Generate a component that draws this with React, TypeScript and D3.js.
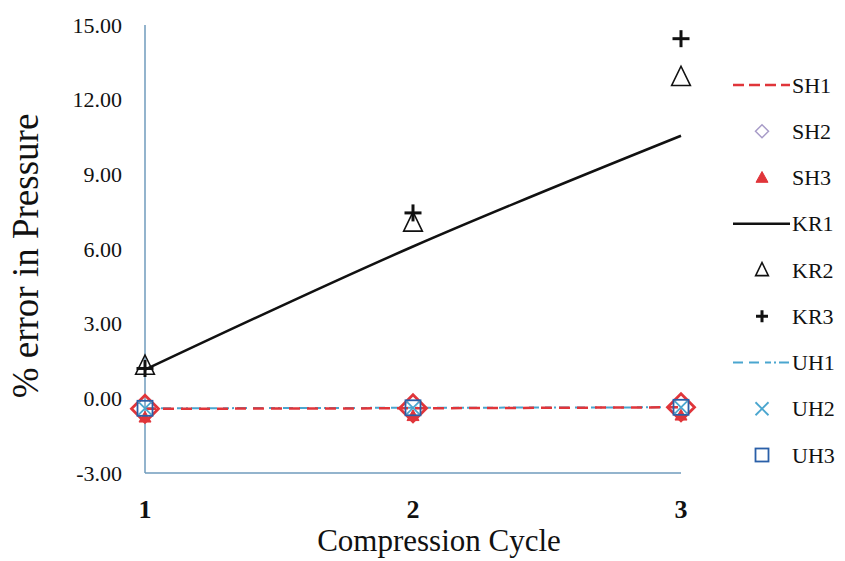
import React from "react";
import * as d3 from "d3";

const cycles = [1, 2, 3];
const yTicks = [-3, 0, 3, 6, 9, 12, 15];

const SH1 = [-0.42, -0.4, -0.36];
const SH2 = [-0.42, -0.4, -0.36];
const SH3 = [-0.68, -0.62, -0.6];
const KR1 = [1.15, 6.1, 10.55];
const KR2 = [1.3, 7.05, 12.9];
const KR3 = [1.2, 7.45, 14.45];
const UH1 = [-0.4, -0.38, -0.36];
const UH2 = [-0.4, -0.38, -0.36];
const UH3 = [-0.4, -0.38, -0.36];

const legendNames = ["SH1", "SH2", "SH3", "KR1", "KR2", "KR3", "UH1", "UH2", "UH3"];

const RED = "#e0353a";
const BLUE = "#2a5fa8";
const LBLUE = "#4aa6cf";
const FONT = "'Liberation Serif', 'Times New Roman', serif";

function Marker({ kind, x, y, s }: { kind: string; x: number; y: number; s: number }) {
  const h = s / 2;
  switch (kind) {
    case "diamond":
      return <path d={`M${x},${y - h}L${x + h},${y}L${x},${y + h}L${x - h},${y}Z`} fill="none" stroke={RED} strokeWidth={2.8} />;
    case "diamondLegend":
      return <path d={`M${x},${y - h}L${x + h},${y}L${x},${y + h}L${x - h},${y}Z`} fill="none" stroke="#a89cc8" strokeWidth={1.5} />;
    case "triFill":
      return <path d={`M${x},${y - h}L${x + h},${y + h * 0.8}L${x - h},${y + h * 0.8}Z`} fill={RED} stroke={RED} strokeWidth={1} />;
    case "tri":
      return <path d={`M${x},${y - h}L${x + h * 0.85},${y + h * 0.75}L${x - h * 0.85},${y + h * 0.75}Z`} fill="none" stroke="#111" strokeWidth={1.6} />;
    case "plus":
      return (
        <g stroke="#111" strokeWidth={3}>
          <line x1={x - h} x2={x + h} y1={y} y2={y} />
          <line x1={x} x2={x} y1={y - h} y2={y + h} />
        </g>
      );
    case "x":
      return (
        <g stroke={LBLUE} strokeWidth={1.8}>
          <line x1={x - h} x2={x + h} y1={y - h} y2={y + h} />
          <line x1={x - h} x2={x + h} y1={y + h} y2={y - h} />
        </g>
      );
    case "square":
      return <rect x={x - h} y={y - h} width={s} height={s} fill="none" stroke={BLUE} strokeWidth={1.8} />;
    default:
      return null;
  }
}

export default function App() {
  const x = d3.scaleLinear().domain([1, 3]).range([145, 681]);
  const y = d3.scaleLinear().domain([-3, 15]).range([473, 25]);
  const ly = d3.scalePoint<string>().domain(legendNames).range([85, 455]);

  const line = d3
    .line<number>()
    .x((_, i) => x(cycles[i]))
    .y((d) => y(d));
  const smooth = d3
    .line<number>()
    .x((_, i) => x(cycles[i]))
    .y((d) => y(d))
    .curve(d3.curveCatmullRom.alpha(0.5));

  const axisColor = "#6f9bbd";
  const lx1 = 733;
  const lx2 = 790;
  const lmid = 762;

  const legendSymbol = (name: string) => {
    const cy = ly(name)!;
    switch (name) {
      case "SH1":
        return <line x1={lx1} x2={lx2} y1={cy} y2={cy} stroke={RED} strokeWidth={2.5} strokeDasharray="11,5" />;
      case "SH2":
        return <Marker kind="diamondLegend" x={lmid} y={cy} s={13} />;
      case "SH3":
        return <Marker kind="triFill" x={lmid} y={cy} s={12} />;
      case "KR1":
        return <line x1={lx1} x2={lx2} y1={cy} y2={cy} stroke="#111" strokeWidth={2.5} />;
      case "KR2":
        return <Marker kind="tri" x={lmid} y={cy} s={15} />;
      case "KR3":
        return <Marker kind="plus" x={lmid} y={cy} s={12} />;
      case "UH1":
        return <line x1={lx1} x2={lx2} y1={cy} y2={cy} stroke={LBLUE} strokeWidth={2} strokeDasharray="10,6,10,6,6,3,2,3" />;
      case "UH2":
        return <Marker kind="x" x={lmid} y={cy} s={13} />;
      case "UH3":
        return <Marker kind="square" x={lmid} y={cy} s={13} />;
      default:
        return null;
    }
  };

  return (
    <svg width={845} height={561} style={{ position: "absolute", left: 0, top: 0, background: "#fff" }} fontFamily={FONT}>
      <rect width={845} height={561} fill="#fff" />
      {/* axes */}
      <line x1={x(1)} x2={x(1)} y1={y(15)} y2={y(-3)} stroke={axisColor} strokeWidth={1.5} />
      <line x1={x(1)} x2={x(3)} y1={y(-3)} y2={y(-3)} stroke={axisColor} strokeWidth={1.5} />
      {yTicks.map((t) => (
        <text key={t} x={122} y={y(t)} dy="0.35em" textAnchor="end" fontSize={22} fill="#111">
          {t.toFixed(2)}
        </text>
      ))}
      {cycles.map((c) => (
        <text key={c} x={x(c)} y={518} textAnchor="middle" fontSize={26} fontWeight="bold" fill="#111">
          {c}
        </text>
      ))}
      <text x={439} y={551} textAnchor="middle" fontSize={31} fill="#111">
        Compression Cycle
      </text>
      <text transform={`translate(38,256) rotate(-90)`} textAnchor="middle" fontSize={37} fill="#111">
        % error in Pressure
      </text>

      {/* series */}
      <path d={line(UH1)!} fill="none" stroke={LBLUE} strokeWidth={2} strokeDasharray="10,6,10,6,6,3,2,3" />
      <path d={line(SH1)!} fill="none" stroke={RED} strokeWidth={2.5} strokeDasharray="11,7" />
      <path d={smooth(KR1)!} fill="none" stroke="#111" strokeWidth={2.5} />
      {SH2.map((v, i) => (
        <Marker key={"sh2" + i} kind="diamond" x={x(cycles[i])} y={y(v)} s={27} />
      ))}
      {SH3.map((v, i) => (
        <Marker key={"sh3" + i} kind="triFill" x={x(cycles[i])} y={y(v) + 2} s={12} />
      ))}
      {UH3.map((v, i) => (
        <Marker key={"uh3" + i} kind="square" x={x(cycles[i])} y={y(v)} s={15} />
      ))}
      {UH2.map((v, i) => (
        <Marker key={"uh2" + i} kind="x" x={x(cycles[i])} y={y(v)} s={13} />
      ))}
      {KR2.map((v, i) => (
        <Marker key={"kr2" + i} kind="tri" x={x(cycles[i])} y={y(v)} s={22} />
      ))}
      {KR3.map((v, i) => (
        <Marker key={"kr3" + i} kind="plus" x={x(cycles[i])} y={y(v)} s={17} />
      ))}

      {/* legend */}
      {legendNames.map((n) => (
        <g key={n}>
          {legendSymbol(n)}
          <text x={792} y={ly(n)!} dy="0.35em" fontSize={22} fill="#111">
            {n}
          </text>
        </g>
      ))}
    </svg>
  );
}
